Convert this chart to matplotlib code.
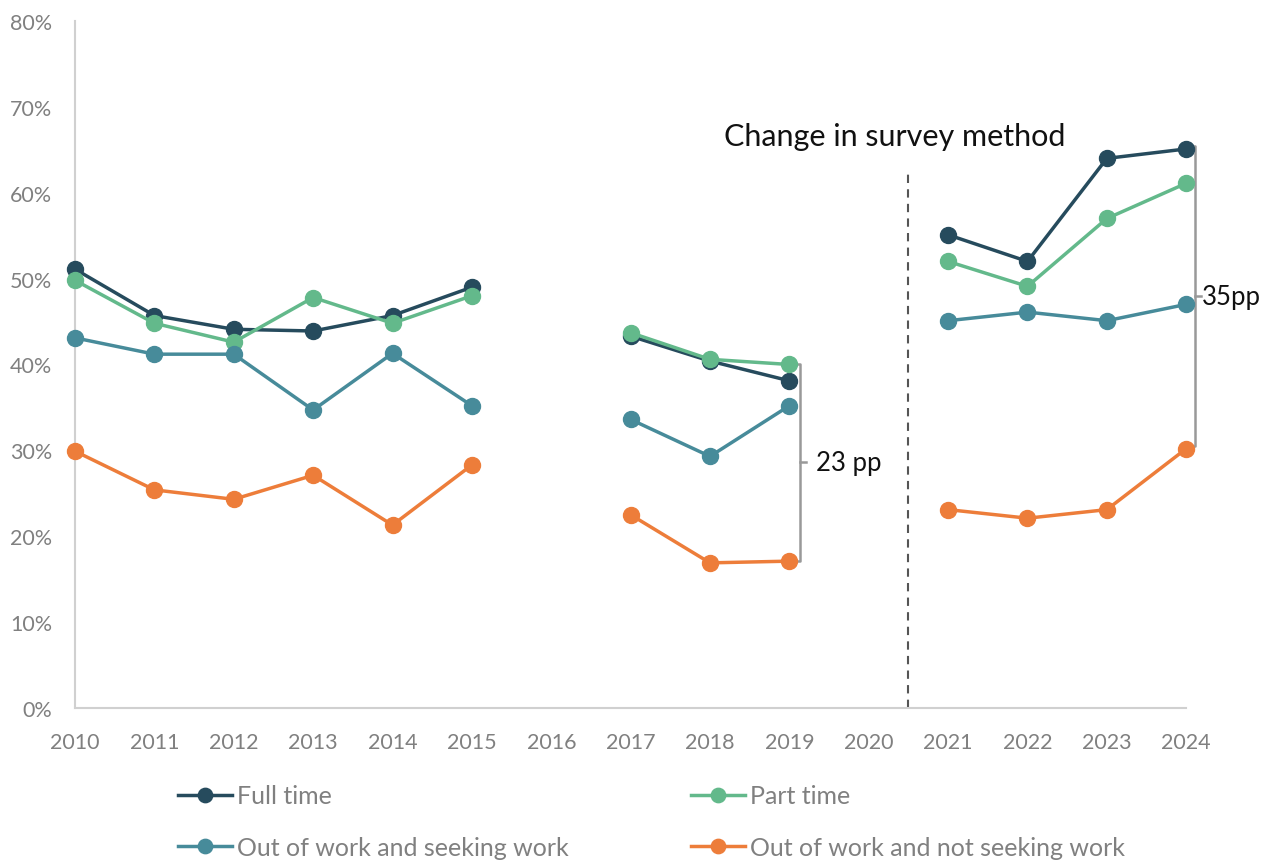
import matplotlib.pyplot as plt
import numpy as np

plt.rcParams['font.family'] = ['Lato', 'DejaVu Sans']

years = list(range(2010, 2025))

# survey values (%), None where no survey was run
full_time = [51.1, 45.7, 44.1, 43.9, 45.7, 49.0, None, 43.3, 40.4, 38.1, None, 55.1, 52.0, 64.0, 65.1]
part_time = [49.8, 44.8, 42.6, 47.8, 44.8, 48.0, None, 43.7, 40.6, 40.0, None, 52.0, 49.1, 57.0, 61.1]
seeking = [43.1, 41.2, 41.2, 34.7, 41.3, 35.2, None, 33.6, 29.3, 35.2, None, 45.1, 46.1, 45.1, 47.0]
not_seeking = [29.9, 25.4, 24.3, 27.1, 21.3, 28.3, None, 22.5, 16.9, 17.1, None, 23.1, 22.1, 23.1, 30.2]

series = [
    ('Full time', full_time, '#264b5d'),
    ('Part time', part_time, '#63b98b'),
    ('Out of work and seeking work', seeking, '#478b9a'),
    ('Out of work and not seeking work', not_seeking, '#ed7d3a'),
]

fig = plt.figure(figsize=(12.74, 8.62), dpi=100)
ax = fig.add_axes([0.0589, 0.1775, 0.8722, 0.797])

handles = {}
for name, vals, col in series:
    y = np.array([np.nan if v is None else v for v in vals], dtype=float)
    h, = ax.plot(years, y, '-o', color=col, lw=2.5, ms=11.5, label=name, clip_on=False, zorder=3)
    handles[name] = h

ax.set_xlim(2010, 2024)
ax.set_ylim(0, 80)
ax.set_xticks(years)
ax.set_yticks(range(0, 81, 10))
ax.set_yticklabels([f'{v}%' for v in range(0, 81, 10)])
ax.tick_params(length=0, labelsize=15.5, colors='#808080')
ax.tick_params(axis='x', pad=17)
ax.tick_params(axis='y', pad=16.5)
for s in ['top', 'right']:
    ax.spines[s].set_visible(False)
for s in ['left', 'bottom']:
    ax.spines[s].set_color('#d0d0d0')
    ax.spines[s].set_linewidth(1.5)

# survey method break
ax.plot([2020.5, 2020.5], [0, 62.4], ls=(0, (4, 3)), color='#555555', lw=1.5)
ax.text(2020.33, 66.6, 'Change in survey method', ha='center', va='center', fontsize=22, color='#111111')

# gap brackets
gray = '#999999'
def bracket(x0, xb, top, bottom, label, dx):
    ax.plot([x0, xb, xb, x0], [top, top, bottom, bottom], color=gray, lw=1.8, clip_on=False, zorder=2)
    mid = (top + bottom) / 2
    ax.plot([xb, xb + 0.08], [mid, mid], color=gray, lw=1.8, clip_on=False)
    ax.text(xb + dx, mid, label, ha='left', va='center', fontsize=18.5, color='#111111')

bracket(2019, 2019.13, full_time[9] + 2.0, not_seeking[9], '23 pp', 0.2)
bracket(2024, 2024.11, 65.4, 30.5, '35pp', 0.09)

order = ['Full time', 'Out of work and seeking work', 'Part time', 'Out of work and not seeking work']
fig.legend([handles[n] for n in order], order, ncol=2, loc='upper left',
           bbox_to_anchor=(0.1397, 0.089), frameon=False, fontsize=18, labelcolor='#808080',
           handlelength=2.16, handletextpad=0.2, columnspacing=4.9, labelspacing=1.15,
           borderaxespad=0, borderpad=0, markerscale=0.9)

fig.savefig('out.png', dpi=100)
